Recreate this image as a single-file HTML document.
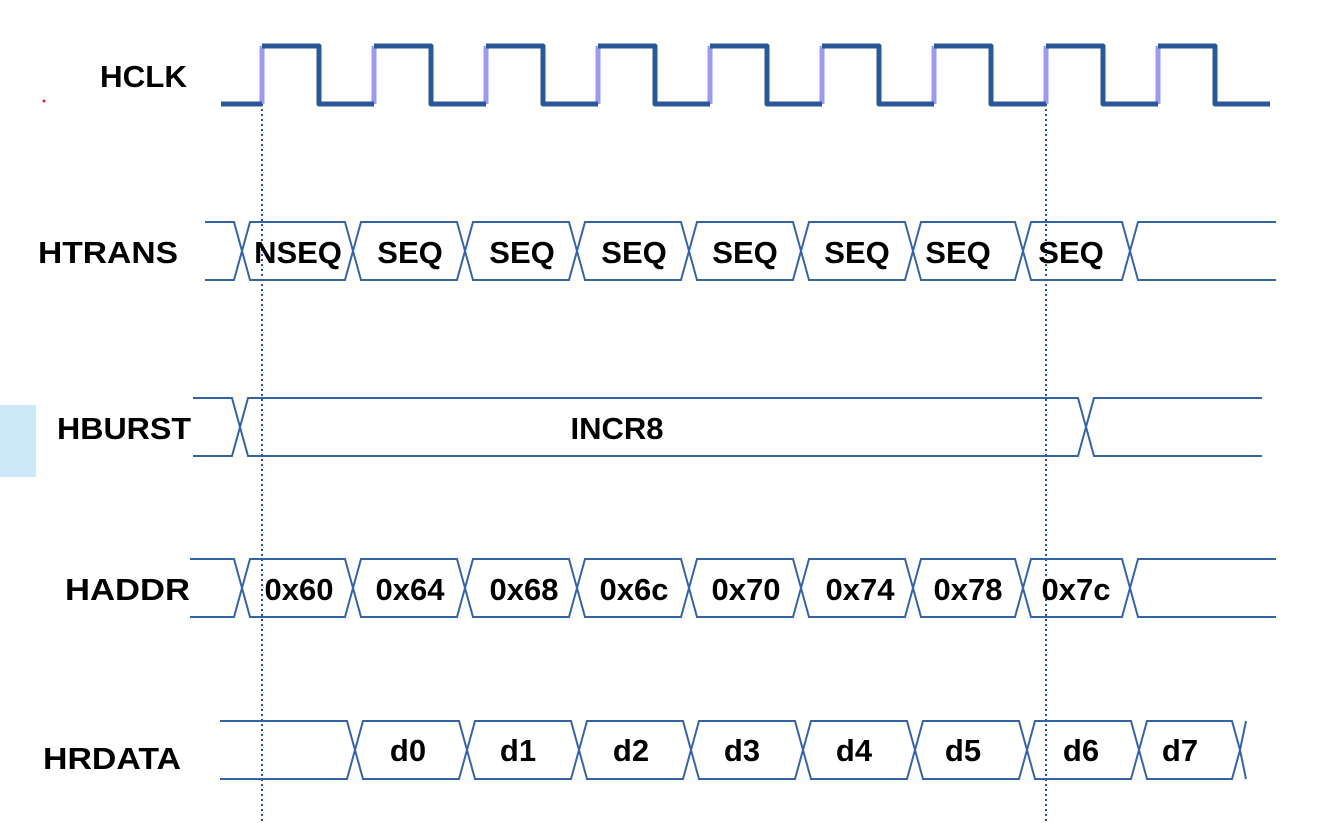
<!DOCTYPE html>
<html><head><meta charset="utf-8"><style>
html,body{margin:0;padding:0;background:#fff;}
svg{display:block}
text{font-family:"Liberation Sans",sans-serif;font-weight:bold;fill:#000;}
</style></head><body>
<svg id="s" width="1344" height="823" viewBox="0 0 1344 823" xmlns="http://www.w3.org/2000/svg">
<rect x="0" y="405" width="36" height="72" fill="#cde8f9"/>
<circle cx="44" cy="101" r="1.5" fill="#e02020"/>
<g id="g"></g>
<g font-size="31">
<text x="100" y="87" textLength="87" lengthAdjust="spacingAndGlyphs">HCLK</text>
<text x="38" y="263" textLength="140" lengthAdjust="spacingAndGlyphs">HTRANS</text>
<text x="57" y="439" textLength="134" lengthAdjust="spacingAndGlyphs">HBURST</text>
<text x="65" y="600" textLength="125" lengthAdjust="spacingAndGlyphs">HADDR</text>
<text x="43" y="769" textLength="138" lengthAdjust="spacingAndGlyphs">HRDATA</text>
</g>
<g font-size="31" text-anchor="middle">
<text x="298" y="263">NSEQ</text>
<text x="410" y="263">SEQ</text>
<text x="522" y="263">SEQ</text>
<text x="634" y="263">SEQ</text>
<text x="745" y="263">SEQ</text>
<text x="857" y="263">SEQ</text>
<text x="958" y="263">SEQ</text>
<text x="1071" y="263">SEQ</text>
<text x="617" y="439">INCR8</text>
<text x="299" y="600">0x60</text>
<text x="410" y="600">0x64</text>
<text x="524" y="600">0x68</text>
<text x="634" y="600">0x6c</text>
<text x="746" y="600">0x70</text>
<text x="860" y="600">0x74</text>
<text x="968" y="600">0x78</text>
<text x="1076" y="600">0x7c</text>
<text x="408" y="761">d0</text>
<text x="518" y="761">d1</text>
<text x="631" y="761">d2</text>
<text x="742" y="761">d3</text>
<text x="854" y="761">d4</text>
<text x="963" y="761">d5</text>
<text x="1081" y="761">d6</text>
<text x="1180" y="761">d7</text>
</g>
</svg>
<script>
var g=document.getElementById('g'),NS="http://www.w3.org/2000/svg";
function P(d,c,w,extra){var p=document.createElementNS(NS,'path');p.setAttribute('d',d);p.setAttribute('stroke',c);p.setAttribute('stroke-width',w);p.setAttribute('fill','none');if(extra)for(var k in extra)p.setAttribute(k,extra[k]);g.appendChild(p);}
P("M262 104 L262 822","#2b4f8a",2,{"stroke-dasharray":"2 3"});
P("M1046 104 L1046 822","#2b4f8a",2,{"stroke-dasharray":"2 3"});
var lo=104,hi=46,d="M221 "+lo;
for(var i=0;i<9;i++){var r=262+112*i,f=r+57;
 P("M"+r+" "+lo+" L"+r+" "+hi,"#9b9bf0",5);
 d+=" L"+r+" "+lo+" M"+r+" "+hi+" L"+f+" "+hi+" L"+f+" "+lo;}
d+=" L1270 "+lo;
P(d,"#2b5797",5,{"stroke-linejoin":"round"});
function bus(top,bot,start,cross,end,w){
 var m=(top+bot)/2,s="";
 s+="M"+start+" "+top+" L"+(cross[0]-w)+" "+top+" L"+cross[0]+" "+m+" L"+(cross[0]-w)+" "+bot+" L"+start+" "+bot;
 for(var i=0;i<cross.length-1;i++){var a=cross[i],b=cross[i+1];
  s+=" M"+a+" "+m+" L"+(a+w)+" "+top+" L"+(b-w)+" "+top+" L"+b+" "+m+" L"+(b-w)+" "+bot+" L"+(a+w)+" "+bot+" Z";}
 var l=cross[cross.length-1];
 if(end) s+=" M"+end+" "+top+" L"+(l+w)+" "+top+" L"+l+" "+m+" L"+(l+w)+" "+bot+" L"+end+" "+bot;
 P(s,"#3564a6",2,{"stroke-linejoin":"miter"});
}
var c1=[242,353,465,577,689,801,913,1023,1130];
bus(222,280,205,c1,1276,8);
bus(398,456,193,[240,1086],1262,8);
bus(559,617,190,c1,1276,8);
(function(){var top=721,bot=779,m=750,w=8,cr=[355,467,579,691,803,915,1027,1139,1240],s="";
 s+="M220 "+top+" L"+(cr[0]-w)+" "+top+" L"+cr[0]+" "+m+" L"+(cr[0]-w)+" "+bot+" L220 "+bot;
 for(var i=0;i<cr.length-1;i++){var a=cr[i],b=cr[i+1];
  s+=" M"+a+" "+m+" L"+(a+w)+" "+top+" L"+(b-w)+" "+top+" L"+b+" "+m+" L"+(b-w)+" "+bot+" L"+(a+w)+" "+bot+" Z";}
 s+=" M1240 750 L1246 721 M1240 750 L1246 779";
 P(s,"#3564a6",2);})();
</script>
</body></html>
